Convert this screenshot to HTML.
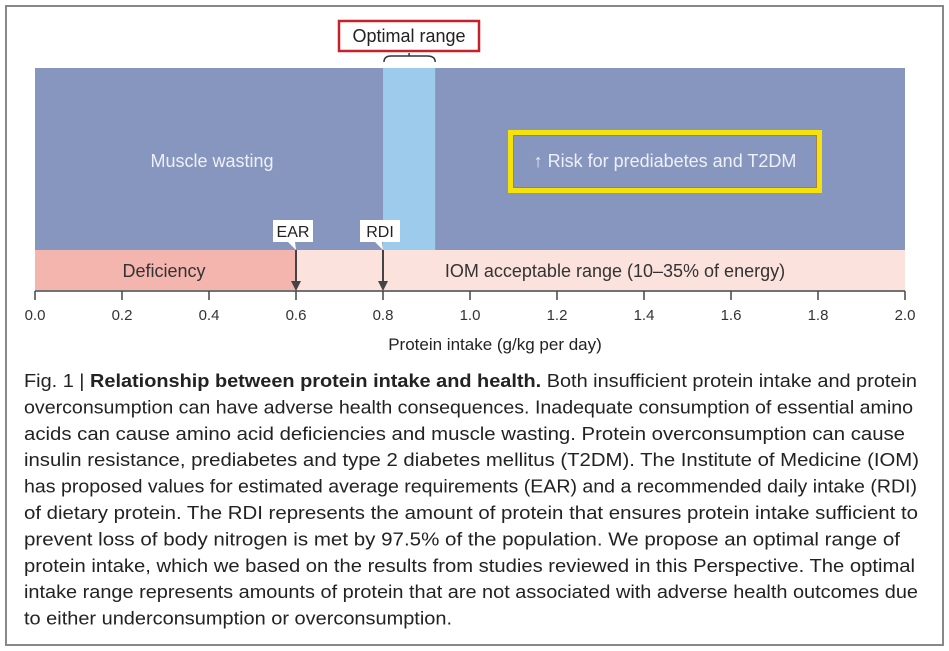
<!DOCTYPE html>
<html><head><meta charset="utf-8"><style>
body{margin:0;background:#fff;}
svg{display:block;font-family:"Liberation Sans",sans-serif;}
</style></head><body>
<svg width="949" height="651" viewBox="0 0 949 651">
<rect x="6" y="6" width="937" height="639" fill="#fff" stroke="#888" stroke-width="2"/>
<g id="chart"></g>
<g id="caption"></g>
</svg>
<script>
const ticks=[0.0,0.2,0.4,0.6,0.8,1.0,1.2,1.4,1.6,1.8,2.0];
const optimalRange=[0.8,0.92];
const deficiencyEnd=0.6;
const markerNames=["EAR","RDI"];
const markerValues=[0.6,0.8];
const xMin=0,xMax=2.0;
const X=v=>35+(v-xMin)/(xMax-xMin)*870;
const NS="http://www.w3.org/2000/svg";
const chart=document.getElementById('chart');
function mk(tag,attrs,parent,text){const e=document.createElementNS(NS,tag);for(const k in attrs)e.setAttribute(k,attrs[k]);if(text!==undefined)e.textContent=text;(parent||chart).appendChild(e);return e;}
let e;
e=mk('rect',{x:X(0),y:68,width:X(2)-X(0),height:182,fill:'#8796bf'});


e=mk('rect',{x:X(optimalRange[0]),y:68,width:X(optimalRange[1])-X(optimalRange[0]),height:182,fill:'#9ccbec'});


e=mk('rect',{x:X(0),y:250,width:X(2)-X(0),height:40,fill:'#fbe2dc'});


e=mk('rect',{x:X(0),y:250,width:X(deficiencyEnd)-X(0),height:40,fill:'#f4b5ae'});


e=mk('text',{x:212,y:167,'font-size':18,fill:'#eef0f8','text-anchor':'middle'},chart,'Muscle wasting');


e=mk('rect',{x:510.5,y:132.5,width:309,height:58,fill:'none',stroke:'#f5e20a','stroke-width':5});


e=mk('rect',{x:513.5,y:135.5,width:303,height:52,fill:'none',stroke:'#a08050','stroke-width':1});


e=mk('text',{x:665,y:167,'font-size':18,fill:'#eef0f8','text-anchor':'middle'},chart,'↑ Risk for prediabetes and T2DM');


e=mk('text',{x:164,y:277,'font-size':18,fill:'#333','text-anchor':'middle'},chart,'Deficiency');


e=mk('text',{x:615,y:277,'font-size':18,fill:'#333','text-anchor':'middle'},chart,'IOM acceptable range (10–35% of energy)');


markerNames.forEach((n,i)=>{const x=X(markerValues[i]);
 const g=mk('g',{});
 
 
 mk('rect',{x:x-23,y:220,width:40,height:22,fill:'#fff'},g);
 mk('path',{d:`M${x-8} 242 L${x} 250 L${x-1} 242 Z`,fill:'#fff'},g);
 mk('text',{x:x-3,y:237,'font-size':16,fill:'#222','text-anchor':'middle'},g,n);
 mk('line',{x1:x,y1:250,x2:x,y2:285,stroke:'#444','stroke-width':2},g);
 mk('path',{d:`M${x-5} 281 L${x+5} 281 L${x} 291 Z`,fill:'#444'},g);
});
e=mk('line',{x1:X(0),y1:291,x2:X(2),y2:291,stroke:'#444','stroke-width':1.5});


ticks.forEach(t=>{
 e=mk('line',{x1:X(t),y1:291,x2:X(t),y2:300,stroke:'#444','stroke-width':1.5});
 
 
 e=mk('text',{x:X(t),y:320,'font-size':15,fill:'#333','text-anchor':'middle'},chart,t.toFixed(1));
 
 
});
e=mk('text',{x:495,y:350,'font-size':17,fill:'#222','text-anchor':'middle'},chart,'Protein intake (g/kg per day)');


e=mk('rect',{x:339,y:21,width:140,height:30,fill:'#fff',stroke:'#c8202a','stroke-width':2.5});


e=mk('text',{x:409,y:42,'font-size':18,fill:'#222','text-anchor':'middle'},chart,'Optimal range');


e=mk('path',{d:`M${X(optimalRange[0])+1} 62 Q${X(optimalRange[0])+1} 56 ${X(optimalRange[0])+8} 56 L${X(optimalRange[1])-8} 56 Q${X(optimalRange[1])} 56 ${X(optimalRange[1])} 62 M${(X(optimalRange[0])+X(optimalRange[1]))/2} 56 L${(X(optimalRange[0])+X(optimalRange[1]))/2} 53`,fill:'none',stroke:'#333','stroke-width':1.5});



const lines=[
 null,
 "overconsumption can have adverse health consequences. Inadequate consumption of essential amino",
 "acids can cause amino acid deficiencies and muscle wasting. Protein overconsumption can cause",
 "insulin resistance, prediabetes and type 2 diabetes mellitus (T2DM). The Institute of Medicine (IOM)",
 "has proposed values for estimated average requirements (EAR) and a recommended daily intake (RDI)",
 "of dietary protein. The RDI represents the amount of protein that ensures protein intake sufficient to",
 "prevent loss of body nitrogen is met by 97.5% of the population. We propose an optimal range of",
 "protein intake, which we based on the results from studies reviewed in this Perspective. The optimal",
 "intake range represents amounts of protein that are not associated with adverse health outcomes due",
 "to either underconsumption or overconsumption."];
const widths=[893,889,881,895,893,894,876,891,894,428];
const cap=document.getElementById('caption');
lines.forEach((l,i)=>{
 const y=387+i*26.4;
 const t=mk('text',{x:24,y:y,'font-size':18.5,fill:'#222',textLength:widths[i],lengthAdjust:'spacingAndGlyphs'},cap);
 
 
 if(l===null){
  const a=mk('tspan',{},t,'Fig. 1 | ');
  const b=mk('tspan',{'font-weight':'bold'},t,'Relationship between protein intake and health.');
  const c=mk('tspan',{},t,' Both insufficient protein intake and protein');
 } else t.textContent=l;
});
</script>
</body></html>
